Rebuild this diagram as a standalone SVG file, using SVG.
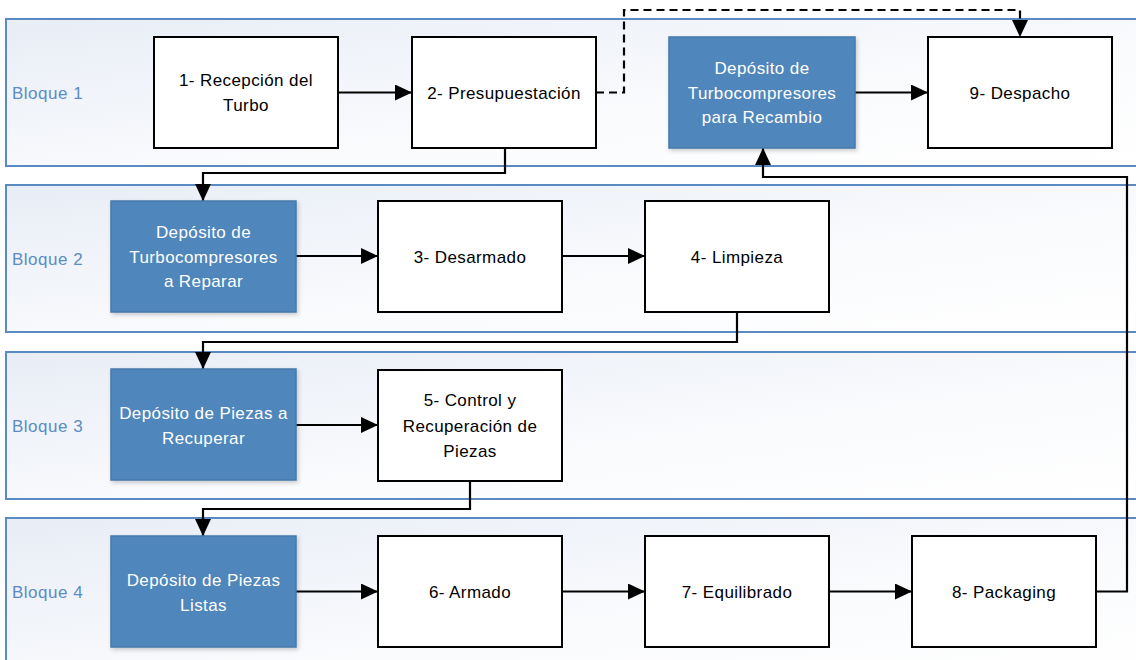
<svg xmlns="http://www.w3.org/2000/svg" width="1136" height="660" viewBox="0 0 1136 660">
<style>
.lane{stroke:#5a8ac2;stroke-width:2;fill:url(#lg)}
.lbl{font-family:"Liberation Sans",Arial,sans-serif;font-size:17px;letter-spacing:0.5px;fill:#5b8cc4}
.w{fill:#fff;stroke:#000;stroke-width:2}
.b{fill:#4f86bb;stroke:#4678ab;stroke-width:1.5;filter:url(#sh)}
.t{font-family:"Liberation Sans",Arial,sans-serif;font-size:17px;letter-spacing:0.4px;fill:#000;text-anchor:middle}
.tw{font-family:"Liberation Sans",Arial,sans-serif;font-size:17px;letter-spacing:0.4px;fill:#fff;text-anchor:middle}
.c{fill:none;stroke:#000;stroke-width:2.2;marker-end:url(#ar)}
.d{stroke-dasharray:8,5}
</style>
<defs>
<linearGradient id="lg" x1="0" y1="0" x2="1" y2="1">
<stop offset="0" stop-color="#e8edf6"/>
<stop offset="0.6" stop-color="#fafbfd"/>
<stop offset="1" stop-color="#ffffff"/>
</linearGradient>
<filter id="sh" x="-10%" y="-10%" width="130%" height="130%">
<feDropShadow dx="1.5" dy="2" stdDeviation="2" flood-color="#000" flood-opacity="0.2"/>
</filter>
<marker id="ar" markerUnits="userSpaceOnUse" markerWidth="18" markerHeight="16" refX="17" refY="8" orient="auto">
<path d="M0,0 L17,8 L0,16 z" fill="#000"/>
</marker>
</defs>
<rect width="1136" height="660" fill="#fff"/>
<g id="lanes">
<g id="bloque1"><rect class="lane" x="6" y="19" width="1140" height="147"/><text class="lbl" x="12" y="99">Bloque 1</text></g>
<g id="bloque2"><rect class="lane" x="6" y="185" width="1140" height="147"/><text class="lbl" x="12" y="265">Bloque 2</text></g>
<g id="bloque3"><rect class="lane" x="6" y="352" width="1140" height="147"/><text class="lbl" x="12" y="432">Bloque 3</text></g>
<g id="bloque4"><rect class="lane" x="6" y="518" width="1140" height="160"/><text class="lbl" x="12" y="598">Bloque 4</text></g>
</g>
<g id="connectors">
<path class="c" d="M338,92.5 H412"/>
<path class="c d" d="M596,92.5 H624 V10 H1020 V37"/>
<path class="c" d="M855,92.5 H928"/>
<path class="c" d="M505,148 V173 H203 V201"/>
<path class="c" d="M296,256 H378"/>
<path class="c" d="M562,256 H645"/>
<path class="c" d="M737,312 V342 H203 V369"/>
<path class="c" d="M296,425 H378"/>
<path class="c" d="M470,481 V509 H203 V536"/>
<path class="c" d="M296,591.5 H378"/>
<path class="c" d="M562,591.5 H645"/>
<path class="c" d="M829,591.5 H912"/>
<path class="c" d="M1096,591.5 H1127 V177 H763 V148"/>
</g>
<g id="n1"><rect class="w" x="154" y="37" width="184" height="111"/><text class="t" x="246" y="86">1- Recepción del</text><text class="t" x="246" y="111">Turbo</text></g>
<g id="n2"><rect class="w" x="412" y="37" width="184" height="111"/><text class="t" x="504" y="98.5">2- Presupuestación</text></g>
<g id="dep-recambio"><rect class="b" x="669" y="37" width="186" height="111"/><text class="tw" x="762" y="74">Depósito de</text><text class="tw" x="762" y="98.5">Turbocompresores</text><text class="tw" x="762" y="123">para Recambio</text></g>
<g id="n9"><rect class="w" x="928" y="37" width="184" height="111"/><text class="t" x="1020" y="98.5">9- Despacho</text></g>
<g id="dep-reparar"><rect class="b" x="111" y="201" width="185" height="111"/><text class="tw" x="203.5" y="238">Depósito de</text><text class="tw" x="203.5" y="262.5">Turbocompresores</text><text class="tw" x="203.5" y="287">a Reparar</text></g>
<g id="n3"><rect class="w" x="378" y="201" width="184" height="111"/><text class="t" x="470" y="262.5">3- Desarmado</text></g>
<g id="n4"><rect class="w" x="645" y="201" width="184" height="111"/><text class="t" x="737" y="262.5">4- Limpieza</text></g>
<g id="dep-recuperar"><rect class="b" x="111" y="369" width="185" height="111"/><text class="tw" x="203.5" y="419">Depósito de Piezas a</text><text class="tw" x="203.5" y="444">Recuperar</text></g>
<g id="n5"><rect class="w" x="378" y="370" width="184" height="111"/><text class="t" x="470" y="406">5- Control y</text><text class="t" x="470" y="432">Recuperación de</text><text class="t" x="470" y="457">Piezas</text></g>
<g id="dep-listas"><rect class="b" x="111" y="536" width="185" height="111"/><text class="tw" x="203.5" y="586">Depósito de Piezas</text><text class="tw" x="203.5" y="611">Listas</text></g>
<g id="n6"><rect class="w" x="378" y="536" width="184" height="111"/><text class="t" x="470" y="597.5">6- Armado</text></g>
<g id="n7"><rect class="w" x="645" y="536" width="184" height="111"/><text class="t" x="737" y="597.5">7- Equilibrado</text></g>
<g id="n8"><rect class="w" x="912" y="536" width="184" height="111"/><text class="t" x="1004" y="597.5">8- Packaging</text></g>
</svg>
